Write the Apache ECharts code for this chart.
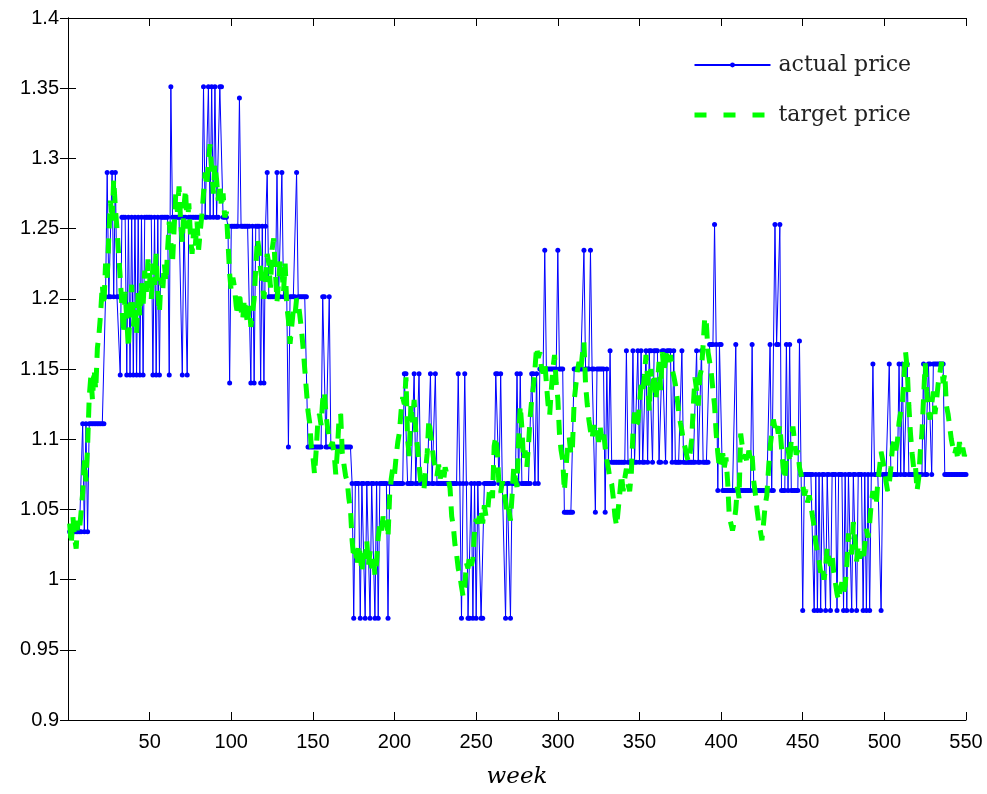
<!DOCTYPE html>
<html><head><meta charset="utf-8">
<script src="https://cdn.jsdelivr.net/npm/echarts@6/dist/echarts.min.js"></script>
<style>html,body{margin:0;padding:0;background:#fff}#c{width:987px;height:794px}</style>
</head><body><div id="c"></div>
<script>
// actual price, read as runs of [price, number of weeks], starting at week 1
const actualRuns = [
[1.034,8],[1.111,1],[1.034,1],[1.111,1],[1.034,1],[1.111,10],[1.2015,1],[1.29,1],[1.2015,2],[1.29,1],
[1.2015,1],[1.29,1],[1.2015,2],[1.1457,1],[1.258,3],[1.1457,1],[1.258,1],[1.1457,1],[1.258,1],[1.1457,1],
[1.258,1],[1.1457,1],[1.258,1],[1.1457,1],[1.258,1],[1.1457,1],[1.258,5],[1.1457,1],[1.258,1],[1.1457,1],
[1.258,1],[1.1457,1],[1.258,5],[1.1457,1],[1.351,1],[1.258,6],[1.1457,1],[1.258,2],[1.1457,1],[1.258,9],
[1.351,1],[1.258,2],[1.351,1],[1.258,1],[1.351,1],[1.258,1],[1.351,1],[1.258,2],[1.351,2],[1.258,3],
[1.2516,1],[1.140,1],[1.2516,5],[1.343,1],[1.2516,6],[1.140,1],[1.2516,1],[1.140,1],[1.2516,3],[1.140,1],
[1.2516,1],[1.140,1],[1.2516,1],[1.29,1],[1.2015,5],[1.29,1],[1.2015,2],[1.29,1],[1.2015,3],[1.0945,1],
[1.2015,4],[1.29,1],[1.2015,6],[1.0945,9],[1.2015,2],[1.0945,2],[1.2015,1],[1.0945,13],[1.0685,1],[0.9725,1],
[1.0685,3],[0.9725,1],[1.0685,2],[0.9725,1],[1.0685,2],[0.9725,1],[1.0685,2],[0.9725,1],[1.0685,1],[0.9725,1],
[1.0685,5],[0.9725,1],[1.0685,9],[1.1467,2],[1.0685,4],[1.1467,1],[1.0685,2],[1.1467,1],[1.0685,6],[1.1467,1],
[1.0685,2],[1.1467,1],[1.0685,13],[1.1467,1],[1.0685,1],[0.9725,1],[1.0685,1],[1.1467,1],[1.0685,1],[0.9725,2],
[1.0685,1],[0.9725,1],[1.0685,1],[0.9725,1],[1.0685,2],[0.9725,2],[1.0685,7],[1.1467,2],[1.0685,1],[1.1467,1],
[1.0685,2],[0.9725,1],[1.0685,2],[0.9725,1],[1.0685,3],[1.1467,1],[1.0685,1],[1.1467,1],[1.0685,6],[1.1467,2],
[1.0685,1],[1.1467,1],[1.0685,1],[1.150,3],[1.2346,1],[1.150,7],[1.2346,1],[1.150,3],[1.048,6],[1.150,6],
[1.2346,1],[1.150,3],[1.2346,1],[1.150,2],[1.048,1],[1.150,5],[1.048,1],[1.150,1],[1.0836,1],[1.163,1],
[1.0836,9],[1.163,1],[1.0836,3],[1.163,1],[1.0836,2],[1.163,1],[1.0836,1],[1.163,1],[1.0836,2],[1.163,1],
[1.0836,1],[1.163,2],[1.0836,1],[1.163,3],[1.0836,2],[1.163,2],[1.0836,1],[1.163,3],[1.0836,1],[1.163,1],
[1.0836,4],[1.163,1],[1.0836,8],[1.163,1],[1.0836,2],[1.163,1],[1.0836,4],[1.1675,3],[1.253,1],[1.1675,1],
[1.0634,1],[1.1675,2],[1.0634,8],[1.1675,1],[1.0634,9],[1.1675,1],[1.0634,10],[1.1675,1],
[1.0634,2],[1.253,1],[1.1675,2],[1.253,1],[1.0634,3],[1.1675,1],[1.0634,1],[1.1675,1],[1.0634,5],[1.170,1],
[1.0748,1],[0.978,1],[1.0748,6],[0.978,1],[1.0748,1],[0.978,1],[1.0748,1],[0.978,1],[1.0748,2],[0.978,1],
[1.0748,2],[0.978,1],[1.0748,3],[0.978,1],[1.0748,3],[0.978,1],[1.0748,1],[0.978,1],[1.0748,2],[0.978,1],
[1.0748,2],[0.978,1],[1.0748,3],[0.978,1],[1.0748,1],[0.978,1],[1.0748,1],[0.978,1],[1.0748,1],[1.1536,1],
[1.0748,4],[0.978,1],[1.0748,4],[1.1536,1],[1.0748,5],[1.1536,1],[1.0748,1],[1.1536,1],[1.0748,2],[1.1536,1],
[1.0748,9],[1.1536,1],[1.0748,2],[1.1536,2],[1.0748,1],[1.1536,7],[1.0748,14]
];

// target price, one value per week from week 1
const targetPrice = [
1.040,1.025,1.045,1.030,1.022,1.042,1.035,1.048,1.062,1.085,
1.070,1.095,1.130,1.145,1.128,1.150,1.135,1.165,1.175,1.190,
1.210,1.195,1.225,1.215,1.245,1.270,1.255,1.285,1.265,1.250,
1.232,1.215,1.195,1.175,1.205,1.185,1.165,1.190,1.210,1.180,
1.195,1.175,1.205,1.188,1.212,1.195,1.220,1.205,1.228,1.215,
1.200,1.225,1.210,1.232,1.205,1.190,1.215,1.205,1.225,1.212,
1.235,1.255,1.240,1.225,1.250,1.275,1.262,1.280,1.255,1.240,
1.265,1.278,1.250,1.268,1.245,1.232,1.250,1.238,1.255,1.235,
1.248,1.260,1.275,1.290,1.280,1.298,1.310,1.292,1.275,1.296,
1.285,1.270,1.282,1.265,1.275,1.258,1.262,1.240,1.218,1.205,
1.215,1.208,1.195,1.188,1.205,1.192,1.185,1.200,1.190,1.182,
1.195,1.180,1.190,1.200,1.222,1.243,1.235,1.220,1.212,1.200,
1.215,1.232,1.225,1.208,1.235,1.243,1.220,1.198,1.212,1.228,
1.220,1.205,1.225,1.195,1.185,1.168,1.180,1.192,1.188,1.200,
1.198,1.188,1.178,1.165,1.150,1.135,1.120,1.112,1.095,1.088,
1.075,1.092,1.112,1.118,1.110,1.128,1.134,1.118,1.108,1.100,
1.095,1.098,1.090,1.075,1.092,1.115,1.118,1.090,1.082,1.074,
1.070,1.058,1.050,1.028,1.015,1.022,1.010,1.025,1.018,1.005,
1.022,1.015,1.028,1.010,1.020,1.008,1.018,1.003,1.012,1.030,
1.040,1.035,1.045,1.038,1.042,1.030,1.060,1.072,1.080,1.075,
1.088,1.098,1.105,1.120,1.130,1.125,1.144,1.100,1.088,1.125,
1.112,1.128,1.105,1.095,1.082,1.070,1.068,1.064,1.078,1.090,
1.114,1.105,1.095,1.085,1.080,1.074,1.082,1.072,1.078,1.070,
1.080,1.075,1.071,1.065,1.045,1.038,1.025,1.018,1.008,1.003,
0.995,0.988,0.995,1.012,1.008,1.018,1.010,1.015,1.035,1.043,
1.040,1.045,1.050,1.040,1.053,1.045,1.048,1.062,1.066,1.058,
1.095,1.102,1.090,1.066,1.062,1.070,1.063,1.055,1.046,1.050,
1.042,1.060,1.080,1.072,1.066,1.100,1.124,1.108,1.085,1.092,
1.080,1.095,1.115,1.128,1.137,1.150,1.166,1.158,1.162,1.150,
1.147,1.155,1.140,1.125,1.117,1.135,1.150,1.160,1.140,1.129,
1.104,1.092,1.085,1.063,1.079,1.095,1.101,1.089,1.095,1.127,
1.138,1.149,1.155,1.148,1.160,1.169,1.139,1.125,1.114,1.106,
1.100,1.110,1.103,1.106,1.098,1.108,1.100,1.106,1.094,1.085,
1.079,1.071,1.068,1.058,1.045,1.038,1.050,1.062,1.075,1.063,
1.072,1.079,1.068,1.063,1.075,1.104,1.119,1.110,1.112,1.125,
1.139,1.134,1.145,1.160,1.144,1.120,1.150,1.135,1.147,1.128,
1.140,1.155,1.135,1.162,1.148,1.157,1.162,1.155,1.160,1.150,
1.145,1.139,1.130,1.120,1.112,1.106,1.098,1.094,1.088,1.084,
1.090,1.100,1.124,1.144,1.135,1.124,1.145,1.150,1.167,1.187,
1.182,1.162,1.155,1.147,1.135,1.124,1.104,1.090,1.079,1.084,
1.090,1.080,1.087,1.070,1.045,1.040,1.035,1.041,1.050,1.066,
1.058,1.104,1.095,1.086,1.089,1.082,1.092,1.085,1.089,1.070,
1.061,1.050,1.041,1.035,1.028,1.040,1.053,1.060,1.078,1.094,
1.104,1.114,1.108,1.112,1.104,1.110,1.094,1.080,1.071,1.086,
1.094,1.083,1.100,1.109,1.098,1.089,1.092,1.080,1.075,1.068,
1.060,1.064,1.055,1.060,1.053,1.045,1.038,1.026,1.020,1.013,
1.005,1.010,1.000,1.008,1.023,1.015,1.010,1.018,1.005,0.998,
0.990,0.985,0.993,0.998,0.990,0.996,1.010,1.033,1.025,1.018,
1.041,1.030,1.013,1.023,1.015,1.020,1.013,1.025,1.036,1.030,
1.040,1.055,1.063,1.058,1.053,1.070,1.079,1.091,1.085,1.079,
1.070,1.063,1.068,1.080,1.095,1.099,1.092,1.099,1.112,1.119,
1.125,1.144,1.162,1.150,1.124,1.104,1.090,1.079,1.082,1.063,
1.072,1.091,1.104,1.129,1.154,1.134,1.120,1.114,1.125,1.134,
1.118,1.128,1.140,1.147,1.155,1.140,1.147,1.124,1.118,1.109,
1.100,1.094,1.089,1.094,1.085,1.098,1.090,1.094,1.088,1.092
];

const seriesNames = ['actual price', 'target price'];
const xAxisName = 'week';

// decode runs into [week, price] points
const actualData = [];
let wk = 1;
actualRuns.forEach(function (r) {
  for (let i = 0; i < r[1]; i++) { actualData.push([wk, r[0]]); wk++; }
});
const targetData = targetPrice.map(function (v, i) { return [i + 1, v]; });

const chart = echarts.init(document.getElementById('c'), null, {renderer: 'canvas'});
const tickFont = {fontFamily: 'Liberation Sans, Arial, sans-serif', fontSize: 20, color: '#000'};
const lineBlack = {show: true, lineStyle: {color: '#000', width: 1}};
const tickIn = {show: true, inside: true, length: 8, lineStyle: {color: '#000'}};
chart.setOption({
  animation: false,
  backgroundColor: '#fff',
  grid: {left: 68, right: 21, top: 18, bottom: 69, containLabel: false},
  legend: {
    data: [
      {name: seriesNames[0]},
      {name: seriesNames[1], itemStyle: {opacity: 0}, lineStyle: {width: 5, type: [12, 17], color: '#00ff00'}}
    ],
    orient: 'vertical', left: 692, top: 54, padding: 0,
    itemWidth: 76, itemHeight: 6, itemGap: 28,
    textStyle: {fontFamily: 'DejaVu Serif, Liberation Serif, serif', fontSize: 22, color: '#222', padding: [0, 0, 0, 3]}
  },
  xAxis: [{
    type: 'value', min: 0, max: 550, interval: 50, position: 'bottom',
    axisLine: lineBlack, axisTick: tickIn,
    axisLabel: Object.assign({margin: 12, formatter: function (v) { return v === 0 ? '' : String(v); }}, tickFont),
    splitLine: {show: false},
    name: xAxisName, nameLocation: 'middle', nameGap: 46,
    nameTextStyle: {fontFamily: 'DejaVu Serif, Liberation Serif, serif', fontStyle: 'italic', fontSize: 23, color: '#000'}
  }, {
    type: 'value', min: 0, max: 550, interval: 50, position: 'top',
    axisLine: lineBlack, axisTick: tickIn,
    axisLabel: {show: false}, splitLine: {show: false}
  }],
  yAxis: [{
    type: 'value', min: 0.9, max: 1.4, interval: 0.05, position: 'left',
    axisLine: lineBlack, axisTick: tickIn,
    axisLabel: Object.assign({margin: 9, formatter: function (v) { return String(parseFloat(v.toFixed(2))); }}, tickFont),
    splitLine: {show: false}
  }, {
    type: 'value', min: 0.9, max: 1.4, interval: 0.05, position: 'right',
    axisLine: lineBlack, axisTick: tickIn,
    axisLabel: {show: false}, splitLine: {show: false}
  }],
  series: [{
    name: seriesNames[0], type: 'line', data: actualData,
    xAxisIndex: 0, yAxisIndex: 0,
    symbol: 'circle', symbolSize: 5, showSymbol: true, showAllSymbol: true,
    lineStyle: {color: '#0000ff', width: 1},
    itemStyle: {color: '#0000ff'},
    z: 2
  }, {
    name: seriesNames[1], type: 'line', data: targetData,
    xAxisIndex: 0, yAxisIndex: 0,
    symbol: 'none', showSymbol: false,
    lineStyle: {color: '#00ff00', width: 5, type: [15, 10]},
    itemStyle: {color: '#00ff00'},
    z: 3
  }]
});
</script></body></html>
